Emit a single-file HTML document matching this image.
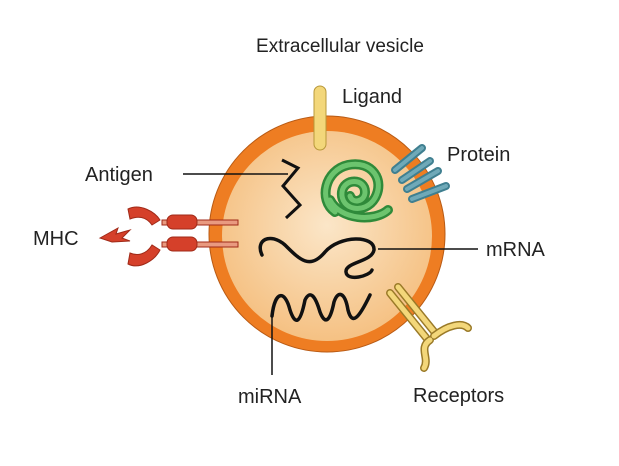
<!DOCTYPE html>
<html><head><style>body{margin:0;background:#fff}svg{display:block}text{font-family:"Liberation Sans",sans-serif;fill:#222}</style></head><body>
<svg width="619" height="466" viewBox="0 0 619 466">
<defs><radialGradient id="g" cx="0.5" cy="0.45" r="0.55"><stop offset="0" stop-color="#fbe6c8"/><stop offset="1" stop-color="#f5c183"/></radialGradient></defs>
<text x="340" y="52" font-size="19" text-anchor="middle">Extracellular vesicle</text>
<circle cx="327" cy="234" r="118" fill="#ee7d22" stroke="#b85a14" stroke-width="1"/>
<circle cx="327" cy="236" r="105" fill="url(#g)"/>
<rect x="314" y="86" width="12" height="64" rx="6" fill="#f3d77a" stroke="#b8983a"/>
<text x="342" y="103" font-size="20">Ligand</text>
<g stroke="#3f7f90" stroke-width="8" stroke-linecap="round"><line x1="395" y1="170" x2="422" y2="148"/><line x1="402" y1="180" x2="430" y2="161"/><line x1="407" y1="189" x2="438" y2="171"/><line x1="412" y1="199" x2="446" y2="186"/></g>
<g stroke="#6fa9b8" stroke-width="4" stroke-linecap="round"><line x1="395" y1="170" x2="422" y2="148"/><line x1="402" y1="180" x2="430" y2="161"/><line x1="407" y1="189" x2="438" y2="171"/><line x1="412" y1="199" x2="446" y2="186"/></g>
<text x="447" y="161" font-size="20">Protein</text>
<g fill="none" stroke="#2f8a3a" stroke-width="10" stroke-linecap="round"><path d="M335 212 C318 200 325 170 348 165 C372 160 385 180 375 198 C365 215 340 210 342 192 C344 178 365 178 365 192 C365 202 352 204 350 196"/><path d="M330 200 C340 220 375 222 388 210"/></g>
<g fill="none" stroke="#6cc46e" stroke-width="5" stroke-linecap="round"><path d="M335 212 C318 200 325 170 348 165 C372 160 385 180 375 198 C365 215 340 210 342 192 C344 178 365 178 365 192 C365 202 352 204 350 196"/><path d="M330 200 C340 220 375 222 388 210"/></g>
<path d="M282 160 L298 168 L283 186 L300 205 L286 218" fill="none" stroke="#111" stroke-width="3"/>
<line x1="183" y1="174" x2="288" y2="174" stroke="#111" stroke-width="1.5"/>
<text x="85" y="181" font-size="20">Antigen</text>
<path d="M262 255 C255 240 270 232 285 245 C300 260 310 270 325 252 C340 235 375 235 374 250 C372 262 345 262 346 272 C347 282 370 276 372 270" fill="none" stroke="#111" stroke-width="3.5" stroke-linecap="round"/>
<line x1="378" y1="249" x2="478" y2="249" stroke="#111" stroke-width="1.5"/>
<text x="486" y="256" font-size="20">mRNA</text>
<path d="M272 316 C275 290 285 290 290 310 C295 325 300 325 305 300 C310 290 315 295 320 312 C325 325 330 322 334 302 C338 290 345 292 348 310 C352 325 358 320 370 295" fill="none" stroke="#111" stroke-width="3.5" stroke-linecap="round"/>
<line x1="272" y1="316" x2="272" y2="375" stroke="#111" stroke-width="1.5"/>
<text x="238" y="403" font-size="20">miRNA</text>
<g fill="none" stroke-linecap="round">
<path d="M390 293 L428 340 M398 287 L436 334" stroke="#9a7a28" stroke-width="8"/>
<path d="M390 293 L428 340 M398 287 L436 334" stroke="#f3d77a" stroke-width="5"/>
<path d="M430 340 C418 348 430 358 424 368 M434 336 C448 325 462 322 468 328" stroke="#9a7a28" stroke-width="8"/>
<path d="M430 340 C418 348 430 358 424 368 M434 336 C448 325 462 322 468 328" stroke="#f3d77a" stroke-width="5"/>
</g>
<text x="413" y="402" font-size="20">Receptors</text>
<g fill="#d5402a" stroke="#a02a18"><rect x="162" y="220" width="76" height="5" fill="#e99a80"/><rect x="162" y="242" width="76" height="5" fill="#e99a80"/><rect x="167" y="215" width="30" height="14" rx="6"/><rect x="167" y="237" width="30" height="14" rx="6"/><path d="M128 209 C140 203 155 212 160 220 L152 225 C146 216 137 216 130 219Z"/><path d="M128 264 C140 270 155 260 160 250 L152 245 C146 255 137 256 130 253Z"/><path d="M100 238 L118 228 L116 234 L130 230 L122 238 L130 241 L112 242Z"/></g>
<text x="33" y="245" font-size="20">MHC</text>
</svg>
</body></html>
